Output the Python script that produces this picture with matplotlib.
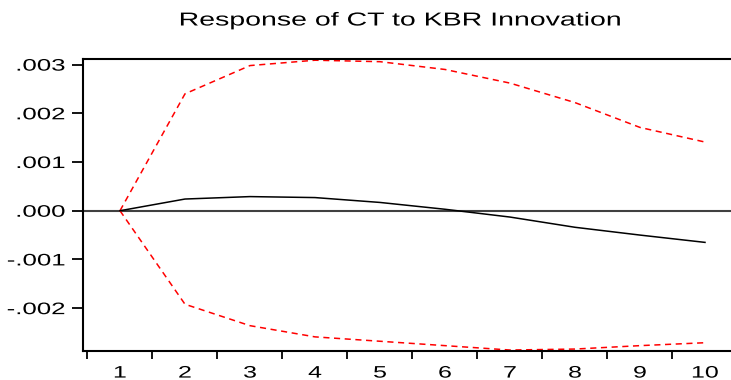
import numpy as np
import matplotlib
matplotlib.use('Agg')
import matplotlib.pyplot as plt
from matplotlib.ticker import FixedLocator, FuncFormatter
from matplotlib.patheffects import AbstractPathEffect
from matplotlib.transforms import Affine2D

# impulse response of CT to a KBR shock, with +/- 2 s.e. bands
periods = [1, 2, 3, 4, 5, 6, 7, 8, 9, 10]
response = [0.0, 0.00024, 0.00029, 0.00027, 0.00017, 0.00003, -0.00013, -0.00034, -0.00050, -0.00065]
upper = [0.0, 0.00240, 0.00298, 0.00309, 0.00306, 0.00290, 0.00262, 0.00222, 0.00171, 0.00141]
lower = [0.0, -0.00192, -0.00236, -0.00259, -0.00268, -0.00277, -0.00286, -0.00284, -0.00277, -0.00271]
yticks = [-0.002, -0.001, 0.0, 0.001, 0.002, 0.003]


class WideText(AbstractPathEffect):
    # the original chart has horizontally stretched lettering
    def __init__(self, sx, align):
        super().__init__()
        self.sx = sx
        self.align = align

    def draw_path(self, renderer, gc, tpath, affine, rgbFace=None):
        ext = affine.transform_path(tpath).get_extents()
        x0 = ext.x0 + self.align * ext.width
        tr = affine + Affine2D().translate(-x0, 0).scale(self.sx, 1).translate(x0, 0)
        renderer.draw_path(gc, tpath, tr, rgbFace)


plt.rcParams['font.family'] = ['Liberation Sans', 'DejaVu Sans']

fig = plt.figure(figsize=(7.31, 3.8), dpi=100)
ax = fig.add_axes([83/731, 1 - 351/380, 1 - 83/731, (351 - 59)/380])

ax.axhline(0, color='#404040', lw=1.5, zorder=1)
ax.plot(periods, response, color='black', lw=1.1, zorder=3)
ax.plot(periods, upper, color='red', lw=1.1, dashes=(4, 3), zorder=2)
ax.plot(periods, lower, color='red', lw=1.1, dashes=(4, 3), zorder=2)

ax.set_xlim(0.431, 10.4)
ax.set_ylim(-0.00288, 0.003115)

ax.xaxis.set_major_locator(FixedLocator(periods))
ax.xaxis.set_minor_locator(FixedLocator([p - 0.5 for p in periods]))
ax.tick_params(axis='x', which='major', length=0, pad=10.5, labelsize=12)
ax.tick_params(axis='x', which='minor', length=5.5, width=1.3, direction='out')
ax.set_yticks(yticks)
ax.yaxis.set_major_formatter(FuncFormatter(lambda v, p: ('%.3f' % v).replace('0.', '.').replace('-.000', '.000')))
ax.tick_params(axis='y', length=8, width=1.3, direction='out', pad=5, labelsize=12)

for lab in ax.get_xticklabels():
    lab.set_path_effects([WideText(1.5, 0.5)])
for lab in ax.get_yticklabels():
    lab.set_path_effects([WideText(1.55, 1.0)])

for s in ['left', 'top', 'bottom']:
    ax.spines[s].set_linewidth(1.5)
ax.spines['right'].set_visible(False)

fig.text(400/731, 1 - 21/380, 'Response of CT to KBR Innovation', ha='center', va='center',
         fontsize=13.5, path_effects=[WideText(1.52, 0.5)])

plt.savefig('out.png', dpi=100)
